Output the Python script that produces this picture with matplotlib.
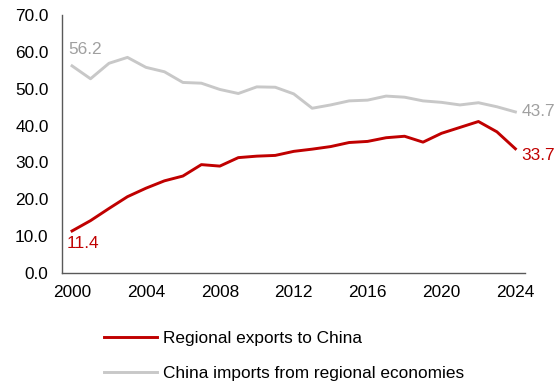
import matplotlib
matplotlib.use("Agg")
import matplotlib.pyplot as plt

years = list(range(2000, 2025))
regional_exports = [11.4, 14.2, 17.5, 20.7, 23.0, 25.0, 26.3, 29.4, 29.0, 31.3, 31.7, 31.9, 33.0,
                    33.6, 34.3, 35.4, 35.7, 36.7, 37.1, 35.5, 37.9, 39.5, 41.1, 38.3, 33.7]
china_imports = [56.2, 52.7, 56.9, 58.5, 55.8, 54.6, 51.7, 51.5, 49.8, 48.7, 50.5, 50.4, 48.6,
                 44.7, 45.6, 46.7, 46.9, 48.0, 47.7, 46.7, 46.3, 45.6, 46.2, 45.1, 43.7]
series_names = ["Regional exports to China", "China imports from regional economies"]
xticks = [2000, 2004, 2008, 2012, 2016, 2020, 2024]
yticks = [0, 10, 20, 30, 40, 50, 60, 70]

plt.rcParams['font.family'] = ['Liberation Sans', 'DejaVu Sans']
RED = "#C00000"
GREY = "#C8C8C8"
GREY_TXT = "#A0A0A0"
FS = 12.4

fig = plt.figure(figsize=(5.6, 3.85), dpi=100)
ax = fig.add_axes([0.1115, 0.291, 0.826, 0.67])

l1, = ax.plot(years, regional_exports, color=RED, lw=2.1, label=series_names[0])
l2, = ax.plot(years, china_imports, color=GREY, lw=2.1, label=series_names[1])

ax.set_xlim(1999.48, 2024.52)
ax.set_ylim(0, 70)
ax.set_xticks(xticks)
ax.set_yticks(yticks)
ax.set_yticklabels([f"{v:.1f}" for v in yticks])
ax.tick_params(length=0, labelsize=FS, colors="black")
ax.tick_params(axis="y", pad=10)
ax.tick_params(axis="x", pad=9)
for s in ["top", "right"]:
    ax.spines[s].set_visible(False)
for s in ["left", "bottom"]:
    ax.spines[s].set_color("#595959")
    ax.spines[s].set_linewidth(1.0)

ax.annotate(f"{china_imports[0]:.1f}", (years[0], china_imports[0]), xytext=(-3, 12),
            textcoords="offset points", color=GREY_TXT, fontsize=FS, ha="left", va="center")
ax.annotate(f"{regional_exports[0]:.1f}", (years[0], regional_exports[0]), xytext=(-4, -9),
            textcoords="offset points", color=RED, fontsize=FS, ha="left", va="center")
ax.annotate(f"{china_imports[-1]:.1f}", (years[-1], china_imports[-1]), xytext=(4.3, 0),
            textcoords="offset points", color=GREY_TXT, fontsize=FS, ha="left", va="center")
ax.annotate(f"{regional_exports[-1]:.1f}", (years[-1], regional_exports[-1]), xytext=(4.3, -5),
            textcoords="offset points", color=RED, fontsize=FS, ha="left", va="center")

fig.legend(handles=[l1, l2], loc="upper left", bbox_to_anchor=(0.173, 0.158), frameon=False,
           fontsize=FS, handlelength=3.08, handletextpad=0.35, labelspacing=1.16,
           borderaxespad=0)

fig.savefig("out.png", dpi=100)
